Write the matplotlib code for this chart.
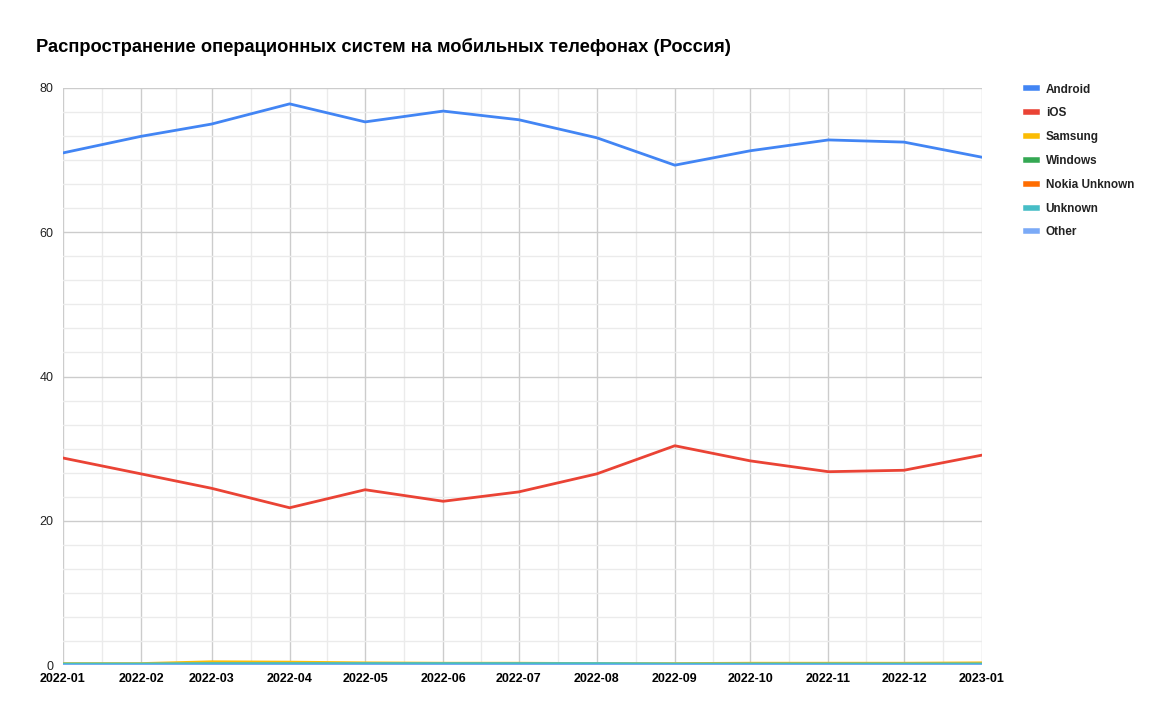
#! /usr/bin/env python3

import numpy as np
import matplotlib
matplotlib.use("Agg")
import matplotlib.pyplot as plt
import matplotlib.dates as mdates
from matplotlib.ticker import MultipleLocator, FixedLocator

plt.rcParams['font.family'] = ['Liberation Sans', 'DejaVu Sans']

months = ['2022-01', '2022-02', '2022-03', '2022-04', '2022-05', '2022-06', '2022-07',
          '2022-08', '2022-09', '2022-10', '2022-11', '2022-12', '2023-01']

android = [71.0, 73.3, 75.0, 77.8, 75.3, 76.8, 75.6, 73.1, 69.3, 71.3, 72.8, 72.5, 70.4]
ios = [28.7, 26.5, 24.5, 21.8, 24.3, 22.7, 24.0, 26.5, 30.4, 28.3, 26.8, 27.0, 29.1]
samsung = [0.2, 0.2, 0.45, 0.4, 0.3, 0.25, 0.25, 0.2, 0.2, 0.25, 0.25, 0.25, 0.3]
windows = [0.05, 0.05, 0.04, 0.04, 0.04, 0.03, 0.03, 0.03, 0.03, 0.03, 0.03, 0.03, 0.03]
nokia = [0.02, 0.02, 0.02, 0.02, 0.02, 0.01, 0.01, 0.01, 0.01, 0.01, 0.01, 0.01, 0.01]
unknown = [0.15, 0.15, 0.2, 0.2, 0.2, 0.2, 0.2, 0.2, 0.15, 0.15, 0.15, 0.15, 0.15]
other = [0.05, 0.05, 0.05, 0.05, 0.05, 0.05, 0.05, 0.05, 0.05, 0.05, 0.05, 0.05, 0.05]

series = [
    ('Android', android, '#4285f4'),
    ('iOS', ios, '#ea4335'),
    ('Samsung', samsung, '#fbbc04'),
    ('Windows', windows, '#34a853'),
    ('Nokia Unknown', nokia, '#ff6d01'),
    ('Unknown', unknown, '#46bdc6'),
    ('Other', other, '#7baaf7'),
]

dates = np.array(months, dtype='datetime64[M]').astype('datetime64[D]')
x = mdates.date2num(dates)

fig = plt.figure(figsize=(11.67, 7.22), dpi=100)
ax = fig.add_axes([63 / 1167, 1 - 665 / 722, (982 - 63) / 1167, (665 - 88) / 722])

for name, vals, col in series:
    ax.plot(x, vals, color=col, linewidth=2, label=name, solid_joinstyle='round')

ax.set_xlim(x[0], x[-1])
ax.set_ylim(0, 80)

ax.set_xticks(x, months)
ax.xaxis.set_minor_locator(FixedLocator((x[:-1] + x[1:]) / 2))
ax.yaxis.set_major_locator(MultipleLocator(20))
ax.yaxis.set_minor_locator(MultipleLocator(20 / 6))

ax.grid(True, which='major', color='#cccccc', linewidth=1)
ax.grid(True, which='minor', color='#ebebeb', linewidth=1)
ax.set_axisbelow(True)
for s in ax.spines.values():
    s.set_visible(False)

ax.tick_params(which='both', length=0)
ax.tick_params(axis='y', labelsize=9, pad=7, colors='#222222')
ax.tick_params(axis='x', labelsize=9, pad=6)
for lbl in ax.get_xticklabels():
    lbl.set_fontweight('bold')

fig.text(36 / 1167, 1 - 47 / 722, 'Распространение операционных систем на мобильных телефонах (Россия)',
         fontsize=13.2, fontweight='bold', va='center', ha='left')

leg = ax.legend(loc='upper left', bbox_to_anchor=(1015 / 1167, 1 - 73 / 722),
                bbox_transform=fig.transFigure, frameon=False, fontsize=8.5,
                handlelength=0.95, handletextpad=0.75, labelspacing=1.0)
for t in leg.get_texts():
    t.set_fontweight('bold')
    t.set_color('#222222')
for h in leg.get_lines():
    h.set_linewidth(4)

fig.savefig('out.png', dpi=100)
